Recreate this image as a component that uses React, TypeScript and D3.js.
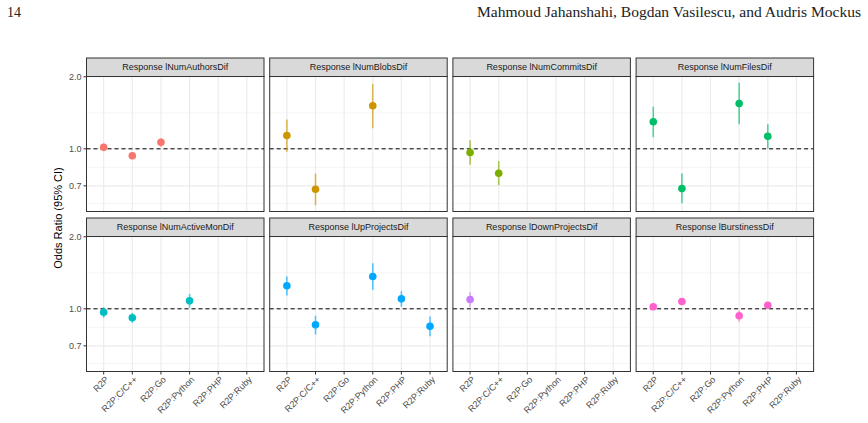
import React from "react";
import * as d3 from "d3";

const categories = ["R2P", "R2P:C/C++", "R2P:Go", "R2P:Python", "R2P:PHP", "R2P:Ruby"];
const responses = [
  "lNumAuthorsDif", "lNumBlobsDif", "lNumCommitsDif", "lNumFilesDif",
  "lNumActiveMonDif", "lUpProjectsDif", "lDownProjectsDif", "lBurstinessDif",
];
const colors = ["#F8766D", "#CD9600", "#7CAE00", "#00BE67", "#00BFC4", "#00A9FF", "#C77CFF", "#FF61CC"];

// [category, odds ratio, lower CI, upper CI]
type Est = [string, number, number, number];
const authorsEst: Est[] = [["R2P", 1.015, 0.977, 1.05], ["R2P:C/C++", 0.935, 0.905, 0.965], ["R2P:Go", 1.066, 1.02, 1.108]];
const blobsEst: Est[] = [["R2P", 1.137, 0.972, 1.326], ["R2P:C/C++", 0.678, 0.581, 0.788], ["R2P:Python", 1.513, 1.219, 1.87]];
const commitsEst: Est[] = [["R2P", 0.965, 0.857, 1.086], ["R2P:C/C++", 0.791, 0.705, 0.888]];
const filesEst: Est[] = [["R2P", 1.297, 1.118, 1.5], ["R2P:C/C++", 0.682, 0.592, 0.788], ["R2P:Python", 1.547, 1.267, 1.887], ["R2P:PHP", 1.129, 1.003, 1.267]];
const activeMonEst: Est[] = [["R2P", 0.968, 0.917, 1.016], ["R2P:C/C++", 0.917, 0.874, 0.962], ["R2P:Python", 1.08, 1.01, 1.155]];
const upProjectsEst: Est[] = [["R2P", 1.248, 1.137, 1.365], ["R2P:C/C++", 0.857, 0.781, 0.935], ["R2P:Python", 1.365, 1.2, 1.551], ["R2P:PHP", 1.101, 1.02, 1.184], ["R2P:Ruby", 0.846, 0.768, 0.929]];
const downProjectsEst: Est[] = [["R2P", 1.094, 1.015, 1.173]];
const burstinessEst: Est[] = [["R2P", 1.02, 1.0, 1.04], ["R2P:C/C++", 1.073, 1.055, 1.09], ["R2P:Python", 0.935, 0.885, 0.984], ["R2P:PHP", 1.035, 1.015, 1.055]];
const panelData = [authorsEst, blobsEst, commitsEst, filesEst, activeMonEst, upProjectsEst, downProjectsEst, burstinessEst];

const yBreaks = [0.7, 1.0, 2.0];
const yBreakLabels = ["0.7", "1.0", "2.0"];
const minorBase = [0.5, 0.7, 1.0, 2.0];
const yDomain: [number, number] = [0.547, 2.006];

const headerPage = "14";
const headerAuthors = "Mahmoud Jahanshahi, Bogdan Vasilescu, and Audris Mockus";
const yTitle = "Odds Ratio (95% CI)";

const panelLeft0 = 86.5;
const panelStep = 183.2;
const panelW = 177.5;
const rowStripTop = [58, 218];
const stripH = 18.5;
const panelH = 135;

const sans = "'Liberation Sans', Arial, sans-serif";

export default function App() {
  const minorBreaks = d3.pairs(minorBase).map(([a, b]) => Math.sqrt(a * b));
  return (
    <svg width={868} height={423} style={{ position: "absolute", left: 0, top: 0, background: "#fff" }}>
      <text x={7} y={17} fontFamily="'Liberation Serif', 'DejaVu Serif', serif" fontSize={14} fill="#222">{headerPage}</text>
      <text x={861} y={17} textAnchor="end" fontFamily="'Liberation Serif', 'DejaVu Serif', serif" fontSize={14.5} fill="#222" textLength={384} lengthAdjust="spacingAndGlyphs">{headerAuthors}</text>
      <text transform={`translate(62,${218}) rotate(-90)`} textAnchor="middle" fontFamily={sans} fontSize={11} fill="#000">{yTitle}</text>
      {responses.map((resp, i) => {
        const col = i % 4;
        const row = Math.floor(i / 4);
        const left = panelLeft0 + col * panelStep;
        const right = left + panelW;
        const stripTop = rowStripTop[row];
        const top = stripTop + stripH;
        const bottom = top + panelH;
        const x = d3.scalePoint<string>().domain(categories).range([left, right]).padding(0.6);
        const y = d3.scaleLog().domain(yDomain).range([bottom, top]);
        const color = colors[i];
        return (
          <g key={resp}>
            <rect x={left} y={top} width={panelW} height={panelH} fill="#fff" />
            {minorBreaks.map((v) => (
              <line key={"mn" + v} x1={left} x2={right} y1={y(v)} y2={y(v)} stroke="#EBEBEB" strokeWidth={0.55} />
            ))}
            {yBreaks.map((v) => (
              <line key={"mj" + v} x1={left} x2={right} y1={y(v)} y2={y(v)} stroke="#EBEBEB" strokeWidth={1.1} />
            ))}
            {categories.map((c) => (
              <line key={"gx" + c} x1={x(c)} x2={x(c)} y1={top} y2={bottom} stroke="#EBEBEB" strokeWidth={1.1} />
            ))}
            <line x1={left} x2={right} y1={y(1)} y2={y(1)} stroke="#000" strokeWidth={1} strokeDasharray="4,3" />
            {panelData[i].map(([c, est, lo, hi]) => (
              <g key={c}>
                <line x1={x(c)} x2={x(c)} y1={y(lo)} y2={y(hi)} stroke={color} strokeWidth={1.6} strokeOpacity={0.65} />
                <circle cx={x(c)} cy={y(est)} r={3.8} fill={color} />
              </g>
            ))}
            <rect x={left} y={top} width={panelW} height={panelH} fill="none" stroke="#333333" strokeWidth={1} />
            <rect x={left} y={stripTop} width={panelW} height={stripH} fill="#D9D9D9" stroke="#333333" strokeWidth={1} />
            <text x={(left + right) / 2} y={stripTop + stripH / 2 + 3.2} textAnchor="middle" fontFamily={sans} fontSize={9} fill="#1A1A1A">{"Response " + resp}</text>
            {col === 0 && yBreaks.map((v, k) => (
              <g key={"yt" + v}>
                <line x1={left - 3} x2={left} y1={y(v)} y2={y(v)} stroke="#333333" strokeWidth={1} />
                <text x={left - 5} y={y(v) + 3.2} textAnchor="end" fontFamily={sans} fontSize={9} fill="#4D4D4D">{yBreakLabels[k]}</text>
              </g>
            ))}
            {row === 1 && categories.map((c) => (
              <g key={"xt" + c}>
                <line x1={x(c)} x2={x(c)} y1={bottom} y2={bottom + 3} stroke="#333333" strokeWidth={1} />
                <text transform={`translate(${x(c)! + 1},${bottom + 4}) rotate(-45)`} dy="0.72em" textAnchor="end" fontFamily={sans} fontSize={9} fill="#4D4D4D">{c}</text>
              </g>
            ))}
          </g>
        );
      })}
    </svg>
  );
}
